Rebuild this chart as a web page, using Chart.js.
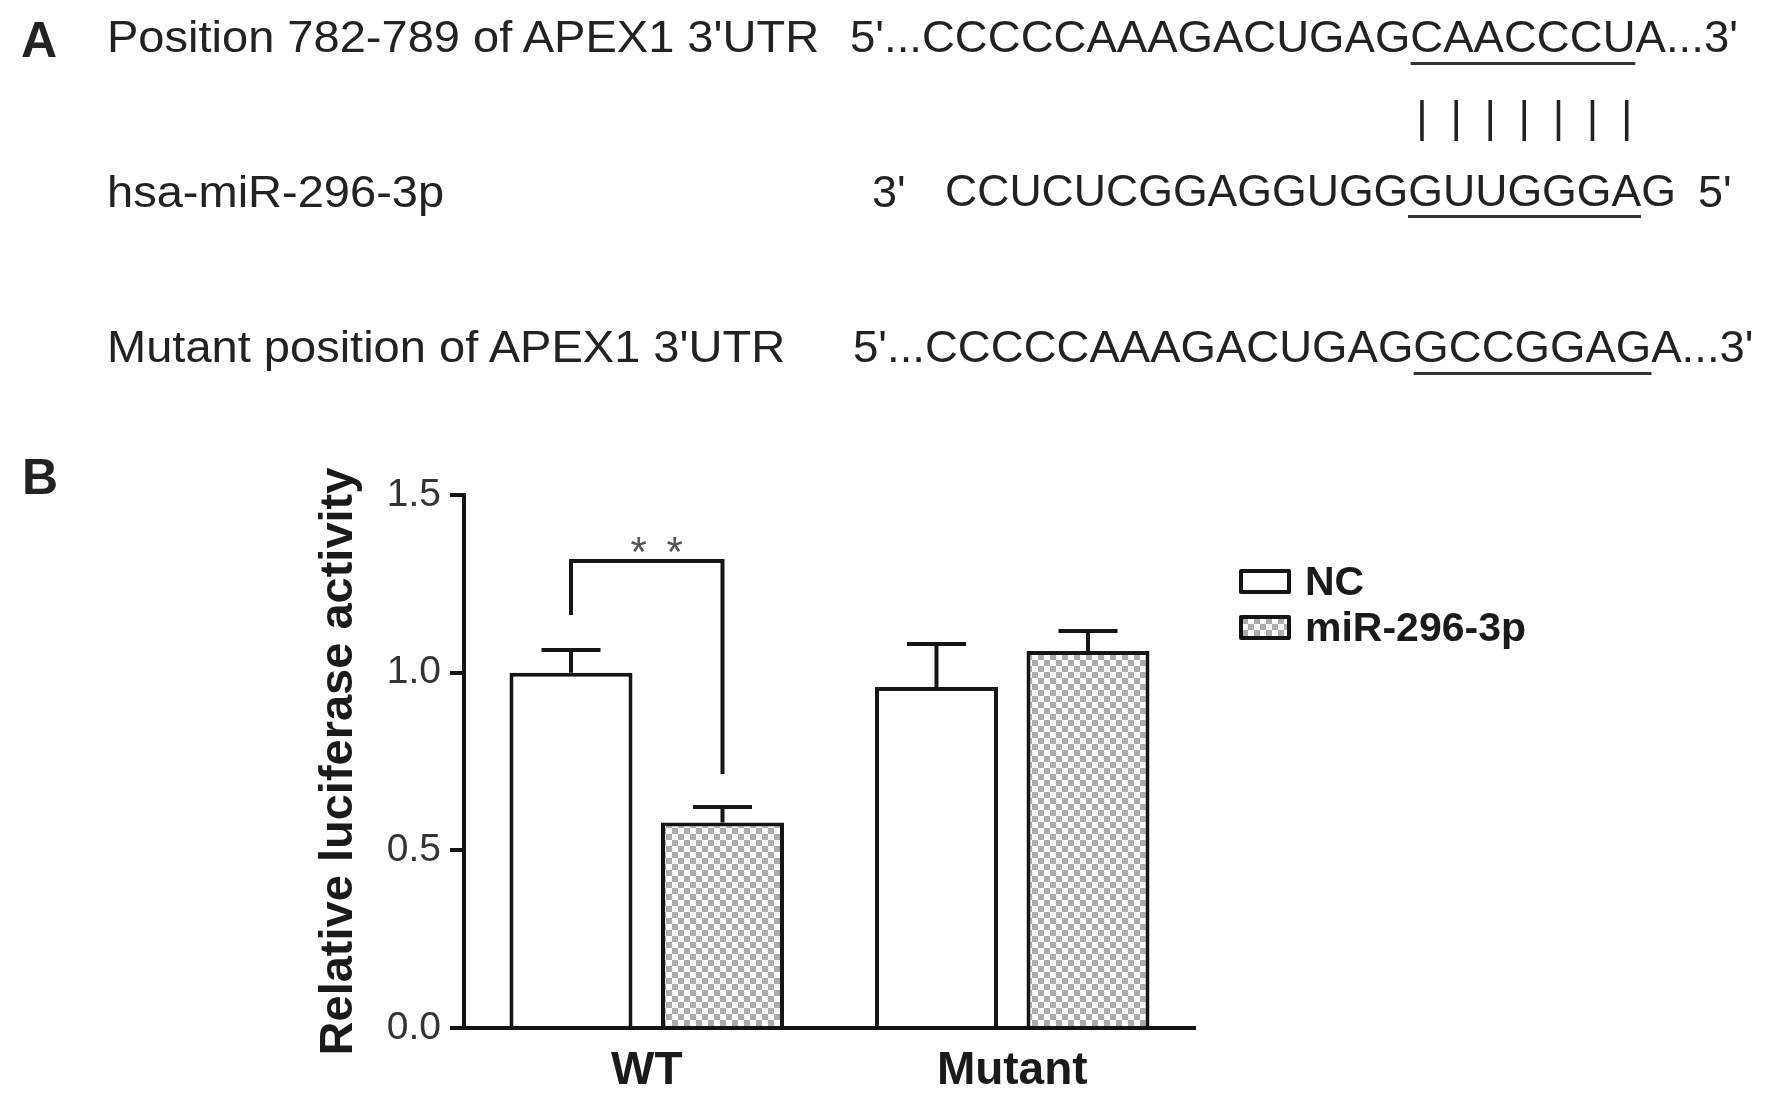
<!DOCTYPE html>
<html>
<head>
<meta charset="utf-8">
<title>APEX1 3'UTR / miR-296-3p luciferase</title>
<script src="https://cdn.jsdelivr.net/npm/chart.js@4.4.1/dist/chart.umd.min.js"></script>
<style>
    body { margin: 0; background: #fff; overflow: hidden; }
    #page { position: relative; width: 1772px; height: 1104px; font-family: "Liberation Sans", Arial, sans-serif; color: #222; }
    #chart { position: absolute; left: 0; top: 0; }
    .txt { position: absolute; white-space: pre; font-size: 45px; line-height: 1; z-index: 2; transform-origin: left center; }
    .lbl { transform: scaleX(1.045); }
    .seq { transform: scaleX(1.012); }
    .panel { font-weight: bold; font-size: 50px; }
    .ul { border-bottom: 3px solid #333; }
    .pipes { font-size: 44px; }
    .pipes span { display: inline-block; width: 34.1px; text-align: center; }
</style>
</head>
<body>
<div id="page">
    <canvas id="chart" width="1772" height="1104"></canvas>

    <div class="txt panel" style="left:21px; top:15px;">A</div>
    <div class="txt lbl" style="left:107px; top:14px;">Position 782-789 of APEX1 3'UTR</div>
    <div class="txt seq" style="left:850px; top:14px;">5'...CCCCCAAAGACUGAG<span class="ul">CAACCCU</span>A...3'</div>
    <div class="txt pipes" style="left:1405px; top:95px;"><span>|</span><span>|</span><span>|</span><span>|</span><span>|</span><span>|</span><span>|</span></div>

    <div class="txt lbl" style="left:107px; top:169px;">hsa-miR-296-3p</div>
    <div class="txt" style="left:872px; top:169px;">3'</div>
    <div class="txt" style="left:945px; top:169px; font-size:44.6px;">CCUCUCGGAGGUGG<span class="ul">GUUGGGA</span>G</div>
    <div class="txt" style="left:1698px; top:169px;">5'</div>

    <div class="txt lbl" style="left:107px; top:324px;">Mutant position of APEX1 3'UTR</div>
    <div class="txt seq" style="left:853px; top:324px;">5'...CCCCCAAAGACUGAG<span class="ul">GCCGGAG</span>A...3'</div>

    <div class="txt panel" style="left:22px; top:452px;">B</div>
</div>

<script>
const groups = ["WT", "Mutant"];
const seriesNames = ["NC", "miR-296-3p"];
const ncValues = [1.00, 0.96];
const ncErrors = [0.064, 0.121];
const mirValues = [0.578, 1.061];
const mirErrors = [0.044, 0.056];
const yTickValues = [0, 0.5, 1.0, 1.5];
// left foot, top, right foot of the WT significance bracket
const bracketLevels = [1.162, 1.314, 0.715];
const sigMarks = ["*", "*"];

const errorSets = [ncErrors, mirErrors];
const lineColor = "#151515";
const fontFamily = '"Liberation Sans", Arial, sans-serif';

Chart.defaults.font.family = fontFamily;

function makeChecker() {
    const c = document.createElement("canvas");
    c.width = 12;
    c.height = 12;
    const g = c.getContext("2d");
    g.fillStyle = "#ffffff";
    g.fillRect(0, 0, 12, 12);
    g.fillStyle = "#adadad";
    g.fillRect(0, 0, 6, 6);
    g.fillRect(6, 6, 6, 6);
    return g.createPattern(c, "repeat");
}

const errorBarPlugin = {
    id: "errorBars",
    afterDatasetsDraw(chart) {
        const ctx = chart.ctx;
        const yScale = chart.scales.y;
        ctx.save();
        ctx.strokeStyle = lineColor;
        ctx.lineWidth = 4;
        chart.data.datasets.forEach((ds, i) => {
            const meta = chart.getDatasetMeta(i);
            meta.data.forEach((bar, j) => {
                const top = yScale.getPixelForValue(ds.data[j] + errorSets[i][j]);
                const half = bar.width * 0.24;
                ctx.beginPath();
                ctx.moveTo(bar.x, bar.y);
                ctx.lineTo(bar.x, top);
                ctx.moveTo(bar.x - half, top);
                ctx.lineTo(bar.x + half, top);
                ctx.stroke();
            });
        });
        ctx.restore();
    }
};

const bracketPlugin = {
    id: "bracket",
    afterDatasetsDraw(chart) {
        const ctx = chart.ctx;
        const yScale = chart.scales.y;
        const left = chart.getDatasetMeta(0).data[0].x;
        const right = chart.getDatasetMeta(1).data[0].x;
        const yLeft = yScale.getPixelForValue(bracketLevels[0]);
        const yTop = yScale.getPixelForValue(bracketLevels[1]);
        const yRight = yScale.getPixelForValue(bracketLevels[2]);

        ctx.save();
        ctx.strokeStyle = lineColor;
        ctx.lineWidth = 4;
        ctx.beginPath();
        ctx.moveTo(left, yLeft);
        ctx.lineTo(left, yTop);
        ctx.lineTo(right, yTop);
        ctx.lineTo(right, yRight);
        ctx.stroke();

        const mid = (left + right) / 2;
        ctx.fillStyle = "#555";
        ctx.font = "42px " + fontFamily;
        ctx.textAlign = "center";
        ctx.textBaseline = "alphabetic";
        sigMarks.forEach((mark, k) => {
            ctx.fillText(mark, mid - 8 + k * 36, yTop + 5);
        });
        ctx.restore();
    }
};

const legendPlugin = {
    id: "sideLegend",
    afterDraw(chart) {
        const ctx = chart.ctx;
        const area = chart.chartArea;
        const x0 = area.right + 46;
        const rows = [area.top + 86, area.top + 132];

        ctx.save();
        chart.data.datasets.forEach((ds, i) => {
            const cy = rows[i];
            ctx.fillStyle = ds.backgroundColor;
            ctx.fillRect(x0, cy - 10, 48, 21);
            ctx.strokeStyle = lineColor;
            ctx.lineWidth = 4;
            ctx.lineJoin = "round";
            ctx.strokeRect(x0, cy - 10, 48, 21);

            ctx.fillStyle = "#1a1a1a";
            ctx.font = "bold 41px " + fontFamily;
            ctx.textAlign = "left";
            ctx.textBaseline = "middle";
            ctx.fillText(ds.label, x0 + 64, cy + 3);
        });
        ctx.restore();
    }
};

const checker = makeChecker();
const ctx = document.getElementById("chart");

new Chart(ctx, {
    type: "bar",
    data: {
        labels: groups,
        datasets: [
            {
                label: seriesNames[0],
                data: ncValues,
                backgroundColor: "#ffffff",
                borderColor: lineColor,
                borderWidth: 4,
                borderSkipped: "start",
                categoryPercentage: 0.829,
                barPercentage: 0.812
            },
            {
                label: seriesNames[1],
                data: mirValues,
                backgroundColor: checker,
                borderColor: lineColor,
                borderWidth: 4,
                borderSkipped: "start",
                categoryPercentage: 0.829,
                barPercentage: 0.812
            }
        ]
    },
    options: {
        responsive: false,
        animation: false,
        devicePixelRatio: 1,
        layout: {
            padding: { left: 307, top: 495, right: 577, bottom: 0 }
        },
        plugins: {
            legend: { display: false },
            tooltip: { enabled: false }
        },
        scales: {
            x: {
                z: 1,
                grid: { display: false, drawTicks: false },
                border: { display: true, color: lineColor, width: 4 },
                ticks: {
                    color: "#1a1a1a",
                    padding: 16,
                    font: { size: 46, weight: "bold" }
                },
                afterFit: scale => { scale.height = 76; }
            },
            y: {
                z: 1,
                min: 0,
                max: 1.5,
                afterBuildTicks: scale => {
                    scale.ticks = yTickValues.map(v => ({ value: v }));
                },
                grid: {
                    display: true,
                    drawOnChartArea: false,
                    drawTicks: true,
                    tickLength: 14,
                    color: lineColor,
                    lineWidth: 4
                },
                border: { display: true, color: lineColor, width: 4 },
                ticks: {
                    color: "#333",
                    padding: 9,
                    font: { size: 39 },
                    callback: value => Number(value).toFixed(1)
                },
                title: {
                    display: true,
                    text: "Relative luciferase activity",
                    color: "#1a1a1a",
                    font: { size: 47, weight: "bold" },
                    padding: { top: 4, bottom: 4 }
                },
                afterFit: scale => { scale.width = 157; }
            }
        }
    },
    plugins: [errorBarPlugin, bracketPlugin, legendPlugin]
});
</script>
</body>
</html>
